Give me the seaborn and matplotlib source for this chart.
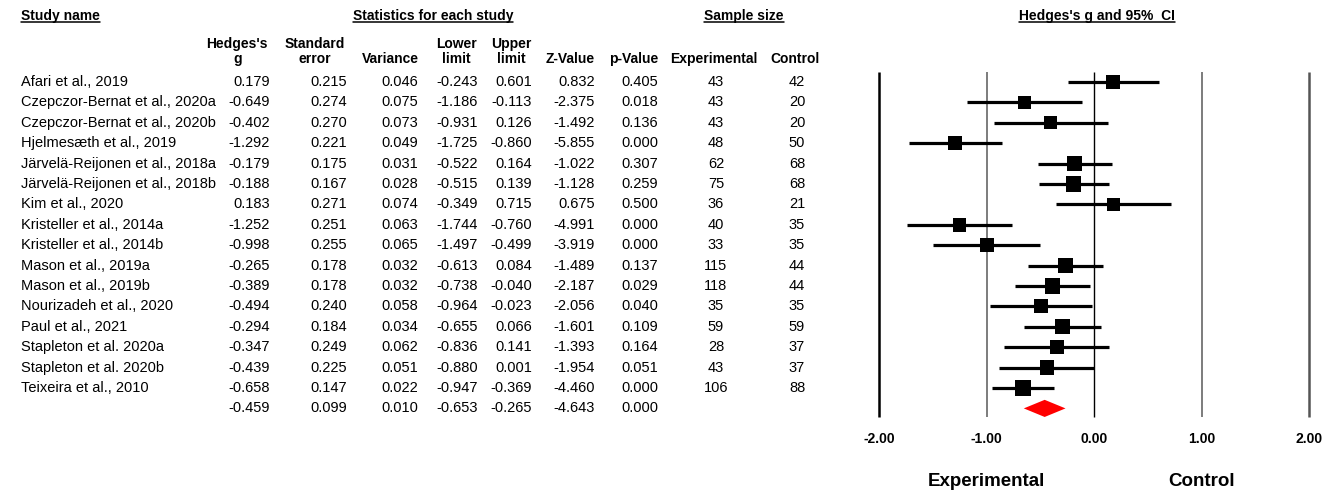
import numpy as np
import pandas as pd
import matplotlib
matplotlib.use("Agg")
import matplotlib.pyplot as plt
from matplotlib.transforms import blended_transform_factory
from matplotlib.lines import Line2D
import seaborn as sns

# ---- study-level data ----
studies = [
    "Afari et al., 2019", "Czepczor-Bernat et al., 2020a", "Czepczor-Bernat et al., 2020b",
    "Hjelmesæth et al., 2019", "Järvelä-Reijonen et al., 2018a", "Järvelä-Reijonen et al., 2018b",
    "Kim et al., 2020", "Kristeller et al., 2014a", "Kristeller et al., 2014b",
    "Mason et al., 2019a", "Mason et al., 2019b", "Nourizadeh et al., 2020",
    "Paul et al., 2021", "Stapleton et al. 2020a", "Stapleton et al. 2020b", "Teixeira et al., 2010",
]
hedges_g = [0.179, -0.649, -0.402, -1.292, -0.179, -0.188, 0.183, -1.252, -0.998,
            -0.265, -0.389, -0.494, -0.294, -0.347, -0.439, -0.658]
std_err = [0.215, 0.274, 0.270, 0.221, 0.175, 0.167, 0.271, 0.251, 0.255,
           0.178, 0.178, 0.240, 0.184, 0.249, 0.225, 0.147]
variance = [0.046, 0.075, 0.073, 0.049, 0.031, 0.028, 0.074, 0.063, 0.065,
            0.032, 0.032, 0.058, 0.034, 0.062, 0.051, 0.022]
lower_lim = [-0.243, -1.186, -0.931, -1.725, -0.522, -0.515, -0.349, -1.744, -1.497,
             -0.613, -0.738, -0.964, -0.655, -0.836, -0.880, -0.947]
upper_lim = [0.601, -0.113, 0.126, -0.860, 0.164, 0.139, 0.715, -0.760, -0.499,
             0.084, -0.040, -0.023, 0.066, 0.141, 0.001, -0.369]
z_value = [0.832, -2.375, -1.492, -5.855, -1.022, -1.128, 0.675, -4.991, -3.919,
           -1.489, -2.187, -2.056, -1.601, -1.393, -1.954, -4.460]
p_value = [0.405, 0.018, 0.136, 0.000, 0.307, 0.259, 0.500, 0.000, 0.000,
           0.137, 0.029, 0.040, 0.109, 0.164, 0.051, 0.000]
n_experimental = [43, 43, 43, 48, 62, 75, 36, 40, 33, 115, 118, 35, 59, 28, 43, 106]
n_control = [42, 20, 20, 50, 68, 68, 21, 35, 35, 44, 44, 35, 59, 37, 37, 88]

# pooled (random-effects) summary
pooled = dict(g=-0.459, se=0.099, var=0.010, lo=-0.653, hi=-0.265, z=-4.643, p=0.000)

axis_ticks = [-2.0, -1.0, 0.0, 1.0, 2.0]

# ---- derived frame and random-effects weights (DerSimonian-Laird) ----
df = pd.DataFrame(dict(study=studies, g=hedges_g, se=std_err, var=variance,
                       lo=lower_lim, hi=upper_lim, z=z_value, p=p_value,
                       n_e=n_experimental, n_c=n_control))
df["row"] = np.arange(len(df))
w_fixed = 1.0 / df["var"]
g_fixed = (w_fixed * df["g"]).sum() / w_fixed.sum()
Q = (w_fixed * (df["g"] - g_fixed) ** 2).sum()
C = w_fixed.sum() - (w_fixed ** 2).sum() / w_fixed.sum()
tau2 = max(0.0, (Q - (len(df) - 1)) / C)
df["w"] = 1.0 / (df["var"] + tau2)
summary_row = len(df)

# ---- figure ----
sns.set_style("white")
plt.rcParams["font.family"] = ["Liberation Sans", "DejaVu Sans"]
plt.rcParams["text.color"] = "black"
plt.rcParams["xtick.color"] = "black"
plt.rcParams["xtick.labelcolor"] = "black"

W, H = 1338, 495
fig = plt.figure(figsize=(W / 100, H / 100), dpi=100)

def fx(px):
    return px / W

def fy(px):
    return 1 - px / H

ax = fig.add_axes([fx(857.5), fy(428.8), 473 / W, 367.2 / H])
ax.set_xlim(-2.2, 2.2)
ax.set_ylim(17.0, -1.0)
for s in ax.spines.values():
    s.set_visible(False)
ax.set_yticks([])

# reference lines
line_style = {-2.0: ("black", 1.8), -1.0: ("#666666", 1.2), 0.0: ("black", 1.0),
              1.0: ("#666666", 1.2), 2.0: ("#555555", 1.8)}
for t in axis_ticks:
    c, lw = line_style[t]
    ax.vlines(t, -0.47, 16.43, color=c, lw=lw, zorder=1)

# confidence intervals
ax.hlines(df["row"], df["lo"], df["hi"], color="black", lw=2.3, zorder=2)

# point estimates, square area proportional to weight
smax = 128.0
smin = smax * df["w"].min() / df["w"].max()
sns.scatterplot(data=df, x="g", y="row", size="w", sizes=(smin, smax), marker="s",
                color="black", edgecolor="black", linewidth=0, legend=False, ax=ax, zorder=3)

# summary diamond
dh = 0.42
ax.fill([pooled["lo"], pooled["g"], pooled["hi"], pooled["g"]],
        [summary_row, summary_row - dh, summary_row, summary_row + dh],
        color="red", lw=0, zorder=3)

ax.set_xticks(axis_ticks)
ax.set_xticklabels([f"{t:.2f}" for t in axis_ticks], fontsize=10, fontweight="bold", color="black")
ax.tick_params(axis="x", length=0, pad=2)
ax.set_xlabel("")
ax.set_ylabel("")

# direction labels under the axis
dir_tr = blended_transform_factory(ax.transData, fig.transFigure)
ax.text(-1.0, fy(481), "Experimental", transform=dir_tr, color="black",
        ha="center", va="center", fontsize=13.5, fontweight="bold")
ax.text(1.0, fy(481), "Control", transform=dir_tr, color="black",
        ha="center", va="center", fontsize=13.5, fontweight="bold")

# ---- table ----
tr = blended_transform_factory(fig.transFigure, ax.transData)
fs = 10.5
num_cols = [("g", 270), ("se", 347), ("var", 418), ("lo", 478), ("hi", 532), ("z", 595), ("p", 658)]
for _, r in df.iterrows():
    fig.text(fx(21), r["row"], r["study"], transform=tr, ha="left", va="center", fontsize=fs)
    for key, xr in num_cols:
        fig.text(fx(xr), r["row"], f"{r[key]:.3f}", transform=tr, ha="right", va="center", fontsize=fs)
    fig.text(fx(716), r["row"], f"{int(r['n_e'])}", transform=tr, ha="center", va="center", fontsize=fs)
    fig.text(fx(797), r["row"], f"{int(r['n_c'])}", transform=tr, ha="center", va="center", fontsize=fs)
for key, xr in num_cols:
    fig.text(fx(xr), summary_row, f"{pooled[key]:.3f}", transform=tr, ha="right", va="center", fontsize=fs)

# column headers
hfs = 10
col_heads = [("Hedges's\ng", 268, "right"), ("Standard\nerror", 345, "right"),
             ("Variance", 419, "right"), ("Lower\nlimit", 477, "right"),
             ("Upper\nlimit", 532, "right"), ("Z-Value", 595, "right"),
             ("p-Value", 658, "right"), ("Experimental", 714, "center"),
             ("Control", 795, "center")]
for label, xp, ha in col_heads:
    fig.text(fx(xp), fy(66), label, ha=ha, va="bottom", multialignment="center",
             fontsize=hfs, fontweight="bold", linespacing=1.05)

# group headers with underline
group_heads = [("Study name", 21, "left"), ("Statistics for each study", 433, "center"),
               ("Sample size", 744, "center"), ("Hedges's g and 95%  CI", 1097, "center")]
head_texts = [fig.text(fx(xp), fy(16), label, ha=ha, va="center", fontsize=hfs, fontweight="bold")
              for label, xp, ha in group_heads]
fig.canvas.draw()
renderer = fig.canvas.get_renderer()
for t in head_texts:
    bb = t.get_window_extent(renderer)
    yline = (bb.y0 + 1.0) / H
    fig.add_artist(Line2D([bb.x0 / W, bb.x1 / W], [yline, yline], color="black", lw=1.1,
                          transform=fig.transFigure))

fig.savefig("out.png", dpi=100, facecolor="white")
